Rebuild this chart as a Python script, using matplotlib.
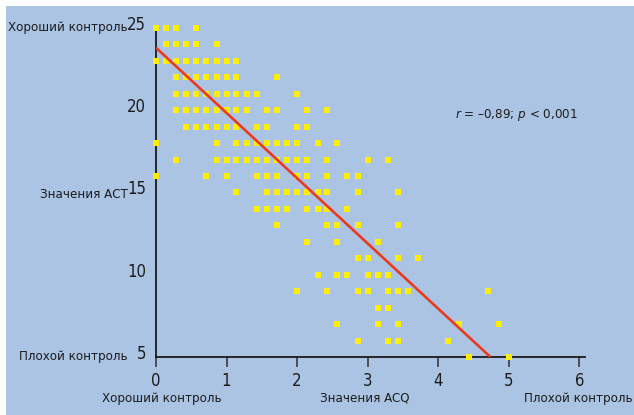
import matplotlib
matplotlib.use('Agg')
import matplotlib.pyplot as plt
import matplotlib.transforms as mtransforms
from matplotlib.patches import Rectangle

plt.rcParams['font.family'] = ['DejaVu Sans']
plt.rcParams['font.stretch'] = 'condensed'
plt.rcParams['mathtext.fontset'] = 'custom'
plt.rcParams['mathtext.it'] = 'DejaVu Sans:italic'
plt.rcParams['mathtext.rm'] = 'DejaVu Sans'

# ACQ values (x) for each ACT score (y)
acq_by_act = {
    25: [0.00, 0.14, 0.29, 0.57],
    24: [0.14, 0.29, 0.43, 0.57, 0.86],
    23: [0.00, 0.14, 0.29, 0.43, 0.57, 0.71, 0.86, 1.00, 1.14],
    22: [0.29, 0.43, 0.57, 0.71, 0.86, 1.00, 1.14, 1.71],
    21: [0.29, 0.43, 0.57, 0.71, 0.86, 1.00, 1.14, 1.29, 1.43, 2.00],
    20: [0.29, 0.43, 0.57, 0.71, 0.86, 1.00, 1.14, 1.29, 1.57, 1.71, 2.14, 2.43],
    19: [0.43, 0.57, 0.71, 0.86, 1.00, 1.14, 1.43, 1.57, 2.00, 2.14],
    18: [0.00, 0.86, 1.14, 1.29, 1.43, 1.57, 1.71, 1.86, 2.00, 2.29, 2.57],
    17: [0.29, 0.86, 1.00, 1.14, 1.29, 1.43, 1.57, 1.71, 1.86, 2.00, 2.14, 2.43, 3.00, 3.29],
    16: [0.00, 0.71, 1.00, 1.43, 1.57, 1.71, 2.00, 2.14, 2.43, 2.71, 2.86],
    15: [1.14, 1.57, 1.71, 1.86, 2.00, 2.14, 2.29, 2.43, 2.86, 3.43],
    14: [1.43, 1.57, 1.71, 1.86, 2.14, 2.29, 2.43, 2.71],
    13: [1.71, 2.43, 2.57, 2.86, 3.43],
    12: [2.14, 2.57, 3.14],
    11: [2.86, 3.00, 3.43, 3.71],
    10: [2.29, 2.57, 2.71, 3.00, 3.14, 3.29],
    9: [2.00, 2.43, 2.86, 3.00, 3.29, 3.43, 3.57, 4.71],
    8: [3.14, 3.29],
    7: [2.57, 3.14, 3.43, 4.29, 4.86],
    6: [2.86, 3.29, 3.43, 4.14],
    5: [4.43, 5.00],
}

# regression line
line_x = [0.0, 4.74]
line_y = [23.8, 5.0]

x_ticks = [0, 1, 2, 3, 4, 5, 6]
y_ticks = [5, 10, 15, 20, 25]

acq = []
act = []
for score, values in acq_by_act.items():
    for v in values:
        acq.append(v)
        act.append(score)

W, H = 634, 415
fig = plt.figure(figsize=(W / 100, H / 100), dpi=100)
fig.patch.set_facecolor('white')
bg = '#acc4e4'
fig.patches.append(Rectangle((6 / W, 0), 628 / W, 409 / H, transform=fig.transFigure,
                             facecolor=bg, edgecolor='none', zorder=-10))

ax = fig.add_axes([156 / W, 58 / H, 429 / W, 330 / H])
ax.set_facecolor('none')
ax.plot(acq, act, 's', color='#ffee00', markersize=4.3, markeredgewidth=0, clip_on=False, zorder=3)
ax.plot(line_x, line_y, color='#ea3a1e', linewidth=1.9, zorder=4, solid_capstyle='butt')

ax.set_xlim(0, 6.08)
ax.set_ylim(5, 25.06)
for s in ['top', 'right']:
    ax.spines[s].set_visible(False)
for s in ['left', 'bottom']:
    ax.spines[s].set_color('#1a1a1a')
    ax.spines[s].set_linewidth(1.3)

txt = '#1c1c1c'
ax.set_xticks(x_ticks)
ax.set_xticklabels([str(t) for t in x_ticks], fontsize=12, color=txt)
ax.tick_params(axis='x', length=7, width=1.3, color='#444444', pad=4)
ax.set_yticks(y_ticks)
ax.set_yticklabels([str(t) for t in y_ticks], fontsize=12, color=txt)
ax.tick_params(axis='y', length=0, pad=7)
offset = mtransforms.ScaledTranslation(0, 5 / 100, fig.dpi_scale_trans)
for lab in ax.get_yticklabels():
    lab.set_transform(lab.get_transform() + offset)

def ftext(px, py, s, ha, size=9.5):
    fig.text(px / W, 1 - py / H, s, ha=ha, va='center', fontsize=size, color=txt)

ftext(128, 27, 'Хороший контроль', 'right')
ftext(128, 194, 'Значения АСТ', 'right')
ftext(128, 356, 'Плохой контроль', 'right')
ftext(162, 398, 'Хороший контроль', 'center')
ftext(365, 398, 'Значения ACQ', 'center')
ftext(633, 398, 'Плохой контроль', 'right')
ftext(578, 115, r'$\it{r}$ = –0,89; $\it{p}$ < 0,001', 'right')

fig.savefig('out.png', dpi=100, facecolor=fig.get_facecolor())
